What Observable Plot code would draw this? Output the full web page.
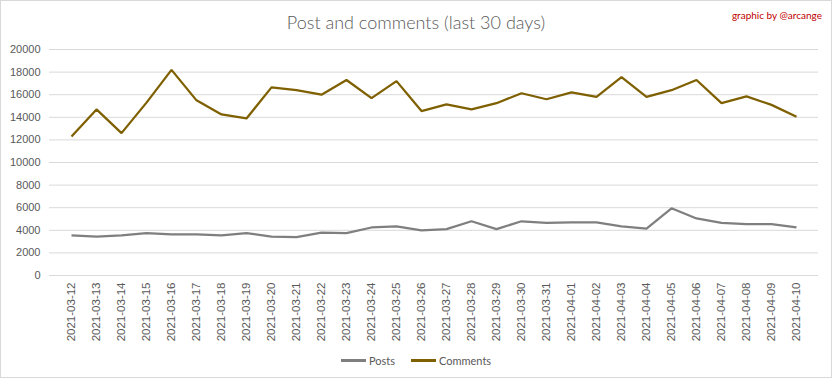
<!DOCTYPE html>
<html><head><meta charset="utf-8">
<script src="https://cdn.jsdelivr.net/npm/d3@7"></script>
<script src="https://cdn.jsdelivr.net/npm/@observablehq/plot@0.6"></script>
<style>
body{margin:0;background:#fff;}
#chart{position:relative;width:832px;height:378px;overflow:hidden;background:#fff;font-family:"Liberation Sans",Arial,sans-serif}
#chart svg{position:absolute;left:0;top:0}
#frame{position:absolute;left:0;top:0;width:832px;height:378px;box-sizing:border-box;border:1px solid #d9d9d9;pointer-events:none}
#title{position:absolute;left:0;width:832px;top:11px;text-align:center;color:#595959;font-family:Lato,"Liberation Sans",sans-serif;font-weight:300;font-size:18px}
#credit{position:absolute;right:10px;top:9px;font-size:10px;color:#c00000;font-family:Lato,"Liberation Sans",sans-serif}
#legend{position:absolute;left:0;width:832px;top:351px;text-align:center;font-size:11px;color:#595959;font-family:Lato,"Liberation Sans",sans-serif}
#legend span.item{display:inline-flex;align-items:center;margin:0 8px}
#legend span.sw{display:inline-block;width:25px;height:3px;margin-right:3px}
</style>
</head><body>
<div id="chart">
  <div id="title">Post and comments (last 30 days)</div>
  <div id="credit">graphic by @arcange</div>
  <div id="legend"></div>
  <div id="frame"></div>
</div>
<script>
const dates = ["2021-03-12","2021-03-13","2021-03-14","2021-03-15","2021-03-16","2021-03-17","2021-03-18","2021-03-19","2021-03-20","2021-03-21","2021-03-22","2021-03-23","2021-03-24","2021-03-25","2021-03-26","2021-03-27","2021-03-28","2021-03-29","2021-03-30","2021-03-31","2021-04-01","2021-04-02","2021-04-03","2021-04-04","2021-04-05","2021-04-06","2021-04-07","2021-04-08","2021-04-09","2021-04-10"];
const posts = [3550,3450,3550,3750,3650,3650,3550,3750,3450,3400,3800,3750,4250,4350,4000,4100,4800,4100,4800,4650,4700,4700,4350,4150,5950,5050,4650,4550,4550,4250];
const comments = [12300,14700,12600,15300,18200,15500,14250,13900,16650,16400,16000,17300,15700,17200,14550,15150,14700,15250,16130,15600,16200,15800,17550,15800,16400,17300,15250,15850,15100,14050];
const yTicks = [0,2000,4000,6000,8000,10000,12000,14000,16000,18000,20000];
const seriesNames = ["Posts","Comments"];
const seriesColors = ["#7f7f7f","#7f6000"];

const data = [];
dates.forEach((d,i)=>{
  data.push({date:d, value:posts[i], series:"Posts"});
  data.push({date:d, value:comments[i], series:"Comments"});
});

const chart = Plot.plot({
  width: 832,
  height: 378,
  marginTop: 49,
  marginBottom: 103,
  marginLeft: 49,
  marginRight: 14,
  style: {fontFamily: "'Liberation Sans', Arial, sans-serif", fontSize: "11px", color: "#595959", background: "transparent"},
  x: {type: "point", domain: dates, padding: 0.5, label: null},
  y: {domain: [0, 20000], label: null},
  color: {domain: seriesNames, range: seriesColors},
  marks: [
    Plot.gridY(yTicks, {stroke: "#d9d9d9", strokeOpacity: 1}),
    Plot.axisY({ticks: yTicks, tickSize: 0, tickPadding: 9, tickFormat: d => String(d), fill: "#595959", fontSize: 11}),
    Plot.axisX({tickSize: 0, tickPadding: 7, tickRotate: -90, fill: "#595959", fontSize: 11.5}),
    Plot.line(data, {x: "date", y: "value", z: "series", stroke: "series", strokeWidth: 2.25, strokeLinejoin: "miter", strokeLinecap: "butt"})
  ]
});
document.getElementById("chart").insertBefore(chart, document.getElementById("title"));

const legend = document.getElementById("legend");
seriesNames.forEach((n,i)=>{
  const it = document.createElement("span"); it.className="item";
  const sw = document.createElement("span"); sw.className="sw"; sw.style.background = seriesColors[i];
  it.appendChild(sw); it.appendChild(document.createTextNode(n));
  legend.appendChild(it);
});
</script>
</body></html>
